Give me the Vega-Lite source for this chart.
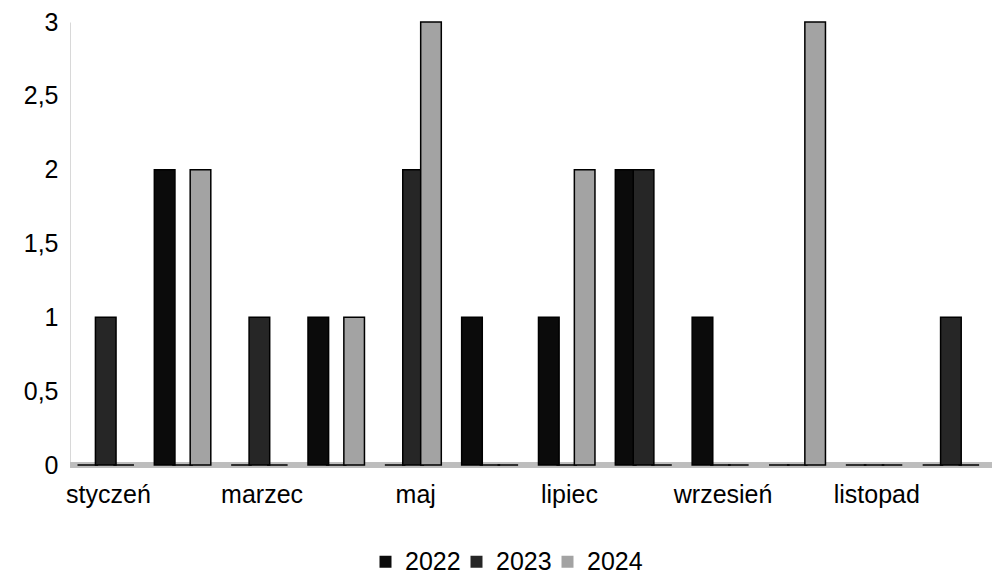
{
  "$schema": "https://vega.github.io/schema/vega-lite/v6.json",
  "width": 922,
  "height": 443,
  "autosize": {"type": "none"},
  "padding": {"left": 70, "top": 22, "right": 0, "bottom": 112},
  "background": "white",
  "config": {
    "view": {"stroke": null},
    "font": "Liberation Sans"
  },
  "data": {
    "values": [
      {"month": "styczeń", "year": "2022", "value": 0},
      {"month": "styczeń", "year": "2023", "value": 1},
      {"month": "styczeń", "year": "2024", "value": 0},
      {"month": "luty", "year": "2022", "value": 2},
      {"month": "luty", "year": "2023", "value": 0},
      {"month": "luty", "year": "2024", "value": 2},
      {"month": "marzec", "year": "2022", "value": 0},
      {"month": "marzec", "year": "2023", "value": 1},
      {"month": "marzec", "year": "2024", "value": 0},
      {"month": "kwiecień", "year": "2022", "value": 1},
      {"month": "kwiecień", "year": "2023", "value": 0},
      {"month": "kwiecień", "year": "2024", "value": 1},
      {"month": "maj", "year": "2022", "value": 0},
      {"month": "maj", "year": "2023", "value": 2},
      {"month": "maj", "year": "2024", "value": 3},
      {"month": "czerwiec", "year": "2022", "value": 1},
      {"month": "czerwiec", "year": "2023", "value": 0},
      {"month": "czerwiec", "year": "2024", "value": 0},
      {"month": "lipiec", "year": "2022", "value": 1},
      {"month": "lipiec", "year": "2023", "value": 0},
      {"month": "lipiec", "year": "2024", "value": 2},
      {"month": "sierpień", "year": "2022", "value": 2},
      {"month": "sierpień", "year": "2023", "value": 2},
      {"month": "sierpień", "year": "2024", "value": 0},
      {"month": "wrzesień", "year": "2022", "value": 1},
      {"month": "wrzesień", "year": "2023", "value": 0},
      {"month": "wrzesień", "year": "2024", "value": 0},
      {"month": "październik", "year": "2022", "value": 0},
      {"month": "październik", "year": "2023", "value": 0},
      {"month": "październik", "year": "2024", "value": 3},
      {"month": "listopad", "year": "2022", "value": 0},
      {"month": "listopad", "year": "2023", "value": 0},
      {"month": "listopad", "year": "2024", "value": 0},
      {"month": "grudzień", "year": "2022", "value": 0},
      {"month": "grudzień", "year": "2023", "value": 1},
      {"month": "grudzień", "year": "2024", "value": 0}
    ]
  },
  "layer": [
    {
      "mark": {"type": "rule", "color": "#bdbdbd", "strokeWidth": 5},
      "encoding": {"y": {"datum": 0, "type": "quantitative"}}
    },
    {
      "mark": {"type": "bar", "stroke": "#000000", "strokeWidth": 1.5, "width": {"band": 1.15}},
      "encoding": {
        "x": {
          "field": "month",
          "type": "nominal",
          "sort": null,
          "scale": {"paddingInner": 0.3, "paddingOuter": 0.15},
          "axis": {
            "title": null,
            "labelAngle": 0,
            "ticks": false,
            "domain": false,
            "labelFontSize": 25,
            "labelColor": "#000000",
            "labelPadding": 17,
            "labelDx": -8,
            "labelExpr": "indexof(['styczeń','marzec','maj','lipiec','wrzesień','listopad'], datum.value) >= 0 ? datum.value : ''"
          }
        },
        "xOffset": {"field": "year", "type": "nominal", "scale": {"paddingInner": 0, "paddingOuter": 0}},
        "y": {
          "field": "value",
          "type": "quantitative",
          "scale": {"domain": [0, 3], "nice": false},
          "axis": {
            "title": null,
            "values": [0, 0.5, 1, 1.5, 2, 2.5, 3],
            "labelExpr": "replace(toString(datum.value), '.', ',')",
            "labelFontSize": 25,
            "labelColor": "#000000",
            "labelPadding": 12,
            "ticks": false,
            "domainColor": "#d8d8d8",
            "gridColor": "#d0d0d0",
            "gridWidth": 1
          }
        },
        "color": {
          "field": "year",
          "type": "nominal",
          "scale": {"domain": ["2022", "2023", "2024"], "range": ["#0b0b0b", "#262626", "#a3a3a3"]},
          "legend": {
            "title": null,
            "orient": "none",
            "direction": "horizontal",
            "legendX": 303,
            "legendY": 527,
            "symbolType": "square",
            "symbolSize": 144,
            "symbolStrokeWidth": 0,
            "labelFontSize": 25,
            "labelColor": "#000000",
            "columnPadding": 3,
            "labelOffset": 7
          }
        }
      }
    }
  ]
}
